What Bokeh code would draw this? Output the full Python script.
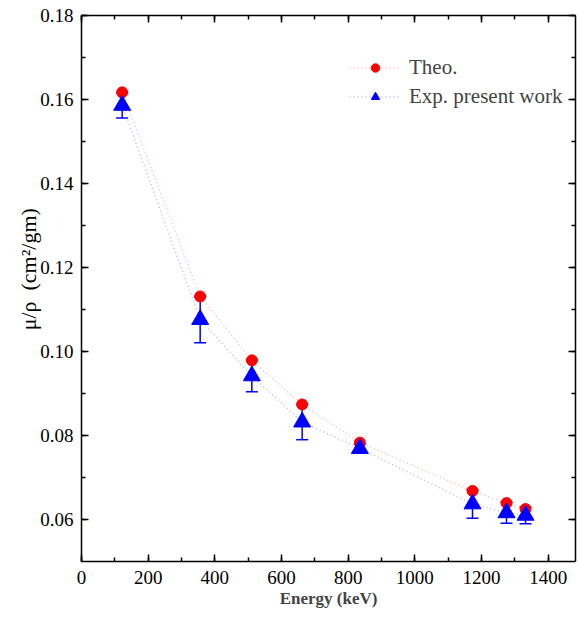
from bokeh.plotting import figure
from bokeh.models import (ColumnDataSource, Whisker, TeeHead, LinearAxis, Range1d,
                          SingleIntervalTicker, NumeralTickFormatter, Legend, LegendItem,
                          CustomLabelingPolicy)
from bokeh.embed import file_html
from bokeh.resources import INLINE

energy = [122, 356, 511, 662, 835, 1173, 1275, 1332]
theo = [0.1617, 0.1131, 0.0979, 0.0874, 0.0783, 0.0668, 0.0639, 0.0625]
exp_vals = [0.1586, 0.1076, 0.0942, 0.0832, 0.0769, 0.0637, 0.0616, 0.0610]
exp_err = [0.0030, 0.0055, 0.0038, 0.0042, 0.0010, 0.0034, 0.0025, 0.0020]

lower = [v - e for v, e in zip(exp_vals, exp_err)]
upper = [v + e for v, e in zip(exp_vals, exp_err)]
src = ColumnDataSource(dict(x=energy, theo=theo, exp=exp_vals, lower=lower, upper=upper))

FONT = "'Liberation Serif', 'Times New Roman', serif"

p = figure(width=580, height=612, output_backend="svg", toolbar_location=None,
           x_range=Range1d(0, 1482), y_range=Range1d(0.05, 0.18),
           min_border_left=81, min_border_right=0, min_border_top=15, min_border_bottom=51)
p.xgrid.visible = False
p.ygrid.visible = False
p.outline_line_color = None

no_labels = CustomLabelingPolicy(code="""
const out = []
return out
""")

def style_axis(ax, labels=True):
    ax.axis_line_width = 1.5
    ax.axis_line_color = "black"
    ax.major_tick_in = 7
    ax.major_tick_out = 0
    ax.minor_tick_in = 4
    ax.minor_tick_out = 0
    ax.major_tick_line_width = 1.5
    ax.minor_tick_line_width = 1.5
    ax.major_label_text_font = FONT
    ax.major_label_text_font_size = "19px"
    ax.major_label_text_color = "black"
    if not labels:
        ax.major_label_text_font_size = "1px"
        ax.major_label_standoff = 0
        ax.major_label_policy = no_labels

xt = SingleIntervalTicker(interval=200, num_minor_ticks=2)
yt = SingleIntervalTicker(interval=0.02, num_minor_ticks=2)

p.xaxis.ticker = xt
p.yaxis.ticker = yt
p.yaxis.formatter = NumeralTickFormatter(format="0.00")
style_axis(p.xaxis[0])
style_axis(p.yaxis[0])
p.xaxis.major_label_standoff = 9
p.yaxis.major_label_standoff = 8
p.xaxis.axis_label = "Energy (keV)"
p.xaxis.axis_label_text_font = FONT
p.xaxis.axis_label_text_font_style = "bold"
p.xaxis.axis_label_text_font_size = "17px"
p.xaxis.axis_label_standoff = 2

NB = "\u00a0"
p.yaxis.axis_label = NB * 7 + "μ/ρ" + NB * 2 + "(cm²/gm)"
p.yaxis.axis_label_text_font = FONT
p.yaxis.axis_label_text_font_style = "normal"
p.yaxis.axis_label_text_font_size = "22px"
p.yaxis.axis_label_text_color = "black"
p.yaxis.axis_label_standoff = -4

top = LinearAxis(ticker=SingleIntervalTicker(interval=200, num_minor_ticks=2))
style_axis(top, labels=False)
p.add_layout(top, "above")
right = LinearAxis(ticker=SingleIntervalTicker(interval=0.02, num_minor_ticks=2))
style_axis(right, labels=False)
p.add_layout(right, "right")

l1 = p.line("x", "theo", source=src, line_color="#ff9999", line_alpha=0.7,
            line_width=1.5, line_dash="1 3")
l2 = p.line("x", "exp", source=src, line_color="#9999ff", line_alpha=0.7,
            line_width=1.5, line_dash="1 3")
c1 = p.scatter("x", "theo", source=src, marker="circle", size=11,
               fill_color="#ff0000", line_color="#ff0000")
w = Whisker(source=src, base="x", lower="lower", upper="upper", line_color="#0000ff",
            line_width=1.5,
            lower_head=TeeHead(size=12, line_color="#0000ff", line_width=1.5),
            upper_head=TeeHead(size=12, line_color="#0000ff", line_width=1.5))
p.add_layout(w)
t1 = p.scatter("x", "exp", source=src, marker="triangle", size=17,
               fill_color="#0000ff", line_color="#0000ff")

legend = Legend(items=[LegendItem(label="Theo.", renderers=[l1, c1]),
                       LegendItem(label="Exp. present work", renderers=[l2, t1])],
                location=(268, 452))
legend.border_line_color = None
legend.background_fill_alpha = 0
legend.label_text_font = FONT
legend.label_text_font_size = "21px"
legend.glyph_width = 52
legend.glyph_height = 21
legend.label_height = 21
legend.spacing = 4
legend.padding = 0
legend.margin = 0
legend.label_standoff = 8
p.add_layout(legend, "center")

open("out.html", "w").write(file_html(p, INLINE))
